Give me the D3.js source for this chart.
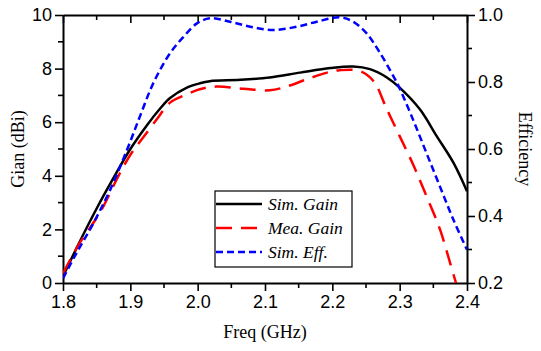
<!DOCTYPE html>
<html>
<head>
<meta charset="utf-8">
<script src="https://cdn.jsdelivr.net/npm/d3@7"></script>
<style>
  body { margin: 0; background: #fff; }
  svg { display: block; }
</style>
</head>
<body>
<div id="chart"></div>
<script>
// Frequency samples (GHz) and values
const simGainFreq = [1.8, 1.825, 1.85, 1.875, 1.9, 1.925, 1.944, 1.959, 1.984, 2.003, 2.018, 2.063, 2.107, 2.152, 2.197, 2.231, 2.256, 2.281, 2.3, 2.33, 2.355, 2.38, 2.4];
const simGain = [0.25, 1.55, 2.78, 3.92, 5.0, 5.9, 6.5, 6.9, 7.29, 7.45, 7.53, 7.58, 7.67, 7.85, 8.02, 8.08, 7.98, 7.67, 7.29, 6.48, 5.48, 4.48, 3.42];

const meaGainFreq = [1.8, 1.823, 1.845, 1.86, 1.882, 1.902, 1.917, 1.939, 1.959, 1.984, 2.003, 2.028, 2.068, 2.107, 2.132, 2.162, 2.192, 2.211, 2.241, 2.261, 2.281, 2.3, 2.32, 2.34, 2.36, 2.375, 2.386];
const meaGain = [0.36, 1.42, 2.24, 2.86, 3.98, 4.86, 5.36, 6.1, 6.73, 7.04, 7.23, 7.33, 7.25, 7.19, 7.33, 7.6, 7.85, 7.94, 7.91, 7.54, 6.48, 5.48, 4.42, 3.23, 1.99, 0.74, -0.2];

const simEffFreq = [1.8, 1.82, 1.845, 1.87, 1.895, 1.914, 1.934, 1.959, 1.979, 1.999, 2.018, 2.048, 2.078, 2.112, 2.147, 2.177, 2.211, 2.231, 2.251, 2.271, 2.291, 2.3, 2.32, 2.34, 2.36, 2.38, 2.4];
const simEff = [0.214, 0.289, 0.378, 0.478, 0.597, 0.696, 0.796, 0.886, 0.935, 0.975, 0.99, 0.98, 0.965, 0.955, 0.965, 0.98, 0.993, 0.98, 0.945, 0.886, 0.816, 0.781, 0.687, 0.587, 0.487, 0.388, 0.299];

const xTicks = [1.8, 1.9, 2.0, 2.1, 2.2, 2.3, 2.4];
const gainTicks = [0, 2, 4, 6, 8, 10];
const effTicks = [0.2, 0.4, 0.6, 0.8, 1.0];

const legendLabels = ['Sim. Gain', 'Mea. Gain', 'Sim. Eff.'];

const totalWidth = 541;
const totalHeight = 351;
const margin = { top: 15, right: 74, bottom: 68, left: 63 };
const width = totalWidth - margin.left - margin.right;
const height = totalHeight - margin.top - margin.bottom;

const xScale = d3.scaleLinear().domain([1.8, 2.4]).range([0, width]);
const yGain = d3.scaleLinear().domain([0, 10]).range([height, 0]);
const yEff = d3.scaleLinear().domain([0.2, 1.0]).range([height, 0]);

const svg = d3
  .select('#chart')
  .append('svg')
  .attr('width', totalWidth)
  .attr('height', totalHeight)
  .append('g')
  .attr('transform', `translate(${margin.left}, ${margin.top})`);

svg
  .append('clipPath')
  .attr('id', 'plot-clip')
  .append('rect')
  .attr('width', width)
  .attr('height', height);

const tickFont = 'Liberation Sans, Arial, sans-serif';
const titleFont = 'Liberation Serif, Times New Roman, serif';

// style an axis group: thick domain, black ticks, sized labels
const styleAxis = (g) => {
  g.select('.domain').attr('stroke', '#000').attr('stroke-width', 2);
  g.selectAll('.tick line').attr('stroke', '#000').attr('stroke-width', 1.6);
  g.selectAll('.tick text')
    .attr('fill', '#000')
    .style('font-family', tickFont)
    .style('font-size', '18px');
};

// minor ticks
const minorTicks = (g, values, scale, orient, len) => {
  g.selectAll(null)
    .data(values)
    .join('line')
    .attr('stroke', '#000')
    .attr('stroke-width', 1.6)
    .each(function (d) {
      const p = scale(d);
      const sel = d3.select(this);
      if (orient === 'x') sel.attr('x1', p).attr('x2', p).attr('y1', 0).attr('y2', len);
      else sel.attr('y1', p).attr('y2', p).attr('x1', 0).attr('x2', len);
    });
};

const xMinor = [1.85, 1.95, 2.05, 2.15, 2.25, 2.35];

// bottom axis
const xAxisG = svg
  .append('g')
  .attr('transform', `translate(0, ${height})`)
  .call(d3.axisBottom(xScale).tickValues(xTicks).tickFormat(d3.format('.1f')).tickSizeInner(8).tickSizeOuter(0).tickPadding(4))
  .call(styleAxis);
xAxisG.call((g) => minorTicks(g, xMinor, xScale, 'x', 5));

// top axis, ticks pointing inward
const topG = svg
  .append('g')
  .call(d3.axisTop(xScale).tickValues(xTicks).tickFormat('').tickSizeInner(-8).tickSizeOuter(0))
  .call(styleAxis);
topG.call((g) => minorTicks(g, xMinor, xScale, 'x', 5));

// left axis
const leftG = svg
  .append('g')
  .call(d3.axisLeft(yGain).tickValues(gainTicks).tickSizeInner(8).tickSizeOuter(0).tickPadding(3))
  .call(styleAxis);
leftG.call((g) => minorTicks(g, [1, 3, 5, 7, 9], yGain, 'y', -5));

// right axis
const rightG = svg
  .append('g')
  .attr('transform', `translate(${width}, 0)`)
  .call(d3.axisRight(yEff).tickValues(effTicks).tickFormat(d3.format('.1f')).tickSizeInner(8).tickSizeOuter(0).tickPadding(3))
  .call(styleAxis);
rightG.call((g) => minorTicks(g, [0.3, 0.5, 0.7, 0.9], yEff, 'y', 5));

// axis titles
svg
  .append('text')
  .attr('x', width / 2)
  .attr('y', height + 55)
  .attr('text-anchor', 'middle')
  .style('font-family', titleFont)
  .style('font-size', '18px')
  .text('Freq (GHz)');

svg
  .append('text')
  .attr('transform', `translate(${-39}, ${height / 2}) rotate(-90)`)
  .attr('text-anchor', 'middle')
  .style('font-family', titleFont)
  .style('font-size', '18px')
  .text('Gian (dBi)');

svg
  .append('text')
  .attr('transform', `translate(${width + 52}, ${height / 2}) rotate(90)`)
  .attr('text-anchor', 'middle')
  .style('font-family', titleFont)
  .style('font-size', '18px')
  .text('Efficiency');

// curves
const series = [
  { f: simGainFreq, v: simGain, y: yGain, color: '#000', dash: null },
  { f: meaGainFreq, v: meaGain, y: yGain, color: '#ff0000', dash: '16,9' },
  { f: simEffFreq, v: simEff, y: yEff, color: '#0000ff', dash: '7,4' },
];

const plot = svg.append('g').attr('clip-path', 'url(#plot-clip)');

series.forEach((s) => {
  const line = d3
    .line()
    .x((d) => xScale(d[0]))
    .y((d) => s.y(d[1]))
    .curve(d3.curveCatmullRom.alpha(0.5));
  plot
    .append('path')
    .datum(s.f.map((f, i) => [f, s.v[i]]))
    .attr('d', line)
    .attr('fill', 'none')
    .attr('stroke', s.color)
    .attr('stroke-width', 2.5)
    .attr('stroke-dasharray', s.dash);
});

// legend
const legend = svg.append('g').attr('transform', `translate(${215 - margin.left}, ${191 - margin.top})`);
legend
  .append('rect')
  .attr('width', 137)
  .attr('height', 76)
  .attr('fill', '#fff')
  .attr('stroke', '#000')
  .attr('stroke-width', 1.2);

legendLabels.forEach((label, i) => {
  const y = 13 + i * 24;
  legend
    .append('line')
    .attr('x1', 1)
    .attr('x2', 47)
    .attr('y1', y)
    .attr('y2', y)
    .attr('stroke', series[i].color)
    .attr('stroke-width', 2.5)
    .attr('stroke-dasharray', series[i].dash);
  legend
    .append('text')
    .attr('x', 53)
    .attr('y', y + 6)
    .style('font-family', titleFont)
    .style('font-style', 'italic')
    .style('font-size', '17.5px')
    .text(label);
});
</script>
</body>
</html>
